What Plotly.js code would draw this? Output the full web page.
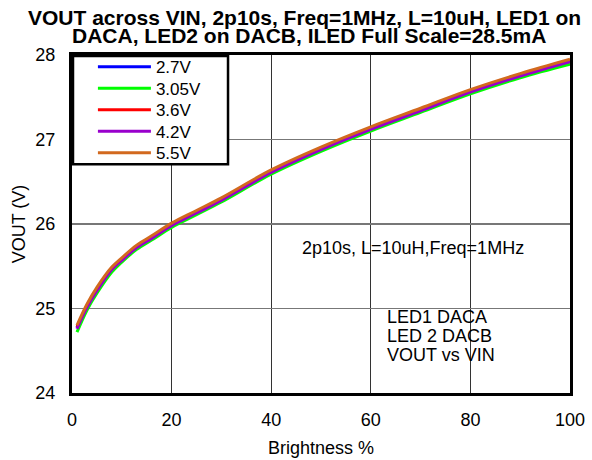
<!DOCTYPE html>
<html>
<head>
<meta charset="utf-8">
<script src="https://cdn.plot.ly/plotly-3.0.1.min.js"></script>
<style>html,body{margin:0;padding:0;background:#fff;}#chart{width:592px;height:460px;}</style>
</head>
<body>
<div id="chart"></div>
<script>
const brightness = [1, 3, 5, 8, 10, 13, 16, 20, 25, 30, 40, 50, 60, 70, 80, 90, 100];
const v2_7  = [24.77, 25.02, 25.22, 25.46, 25.57, 25.72, 25.83, 25.98, 26.13, 26.28, 26.61, 26.88, 27.12, 27.34, 27.56, 27.75, 27.92];
const v3_05 = [24.72, 24.98, 25.18, 25.43, 25.55, 25.70, 25.81, 25.96, 26.11, 26.26, 26.59, 26.86, 27.10, 27.32, 27.54, 27.73, 27.89];
const v3_6  = [24.78, 25.03, 25.23, 25.47, 25.58, 25.73, 25.84, 25.99, 26.14, 26.29, 26.62, 26.89, 27.13, 27.35, 27.57, 27.76, 27.93];
const v4_2  = [24.76, 25.01, 25.21, 25.46, 25.57, 25.72, 25.83, 25.98, 26.13, 26.28, 26.61, 26.88, 27.12, 27.34, 27.56, 27.75, 27.92];
const v5_5  = [24.80, 25.05, 25.25, 25.49, 25.60, 25.75, 25.86, 26.01, 26.16, 26.31, 26.64, 26.91, 27.15, 27.37, 27.59, 27.78, 27.95];
const seriesNames = ["2.7V", "3.05V", "3.6V", "4.2V", "5.5V"];
const seriesColors = ["#0000ff", "#00ff00", "#ff0000", "#9900cc", "#d2691e"];
const seriesValues = [v2_7, v3_05, v3_6, v4_2, v5_5];
const xTicks = [0, 20, 40, 60, 80, 100];
const yTicks = [24, 25, 26, 27, 28];
const titleLines = ["VOUT across VIN, 2p10s, Freq=1MHz, L=10uH, LED1 on", "DACA, LED2 on DACB, ILED Full Scale=28.5mA"];
const noteMain = "2p10s, L=10uH,Freq=1MHz";
const noteLines = ["LED1 DACA", "LED 2 DACB", "VOUT vs VIN"];

const FONT = "Arial, 'Liberation Sans', sans-serif";
const traces = seriesValues.map((vals, i) => ({
  x: brightness, y: vals, type: "scatter", mode: "lines",
  name: seriesNames[i],
  line: {color: seriesColors[i], width: 3, shape: "spline", smoothing: 1}
}));

const annotations = [
  {x: 0.467, y: 1.112, xref: "paper", yref: "paper", text: "<b>" + titleLines[0] + "</b>", showarrow: false,
   font: {family: FONT, size: 21, color: "#000"}, xanchor: "center", yanchor: "middle"},
  {x: 0.476, y: 1.059, xref: "paper", yref: "paper", text: "<b>" + titleLines[1] + "</b>", showarrow: false,
   font: {family: FONT, size: 21, color: "#000"}, xanchor: "center", yanchor: "middle"},
  {x: 68.4, y: 25.72, xref: "x", yref: "y", text: noteMain, showarrow: false, font: {family: FONT, size: 18}, xanchor: "center", yanchor: "middle"},
  {x: 62.85, y: 24.9, xref: "x", yref: "y", text: noteLines[0], showarrow: false, font: {family: FONT, size: 18}, xanchor: "left", yanchor: "middle"},
  {x: 62.85, y: 24.675, xref: "x", yref: "y", text: noteLines[1], showarrow: false, font: {family: FONT, size: 18}, xanchor: "left", yanchor: "middle"},
  {x: 62.85, y: 24.45, xref: "x", yref: "y", text: noteLines[2], showarrow: false, font: {family: FONT, size: 18}, xanchor: "left", yanchor: "middle"}
];

const layout = {
  width: 592, height: 460,
  margin: {l: 72, r: 22, t: 55, b: 67},
  paper_bgcolor: "#fff", plot_bgcolor: "#fff",
  font: {family: FONT, size: 18, color: "#000"},
  xaxis: {range: [0, 100], tickvals: xTicks, ticktext: xTicks.map(String), showgrid: true, gridcolor: "#333", gridwidth: 1,
          zeroline: false, showline: true, mirror: true, linecolor: "#000", linewidth: 3, ticks: "", ticklabelstandoff: 8,
          title: {text: "Brightness %", font: {family: FONT, size: 18}, standoff: 13}, tickfont: {size: 18}},
  yaxis: {range: [24, 28], tickvals: yTicks, ticktext: yTicks.map(String), showgrid: true, gridcolor: "#777", gridwidth: 1.5,
          zeroline: false, showline: true, mirror: true, linecolor: "#000", linewidth: 3, ticks: "", ticklabelstandoff: 10,
          title: {text: "VOUT (V)", font: {family: FONT, size: 18}, standoff: 6}, tickfont: {size: 18}},
  legend: {x: 0.042, y: 1.017, xanchor: "left", yanchor: "top", bgcolor: "rgba(0,0,0,0)", borderwidth: 0,
           font: {family: FONT, size: 17}, itemwidth: 53, tracegroupgap: 0},
  showlegend: true,
  shapes: [
    {type: "rect", xref: "paper", yref: "paper", x0: 0.002, x1: 0.3133, y0: 0.677, y1: 0.997,
     line: {color: "#000", width: 2.5}, fillcolor: "#fff", layer: "above"}
  ],
  annotations: annotations
};
const ROW_STEP = 21.5;
Plotly.newPlot("chart", traces, layout, {displayModeBar: false, staticPlot: true}).then(gd => {
  const items = gd.querySelectorAll("g.legend g.traces");
  if (!items.length) return;
  const m = /translate\(\s*([-\d.]+)[ ,]+([-\d.]+)\s*\)/.exec(items[0].getAttribute("transform") || "");
  if (!m) return;
  const x0 = parseFloat(m[1]), y0 = parseFloat(m[2]);
  items.forEach((el, i) => el.setAttribute("transform", "translate(" + x0 + "," + (y0 + i * ROW_STEP) + ")"));
});
</script>
</body>
</html>
